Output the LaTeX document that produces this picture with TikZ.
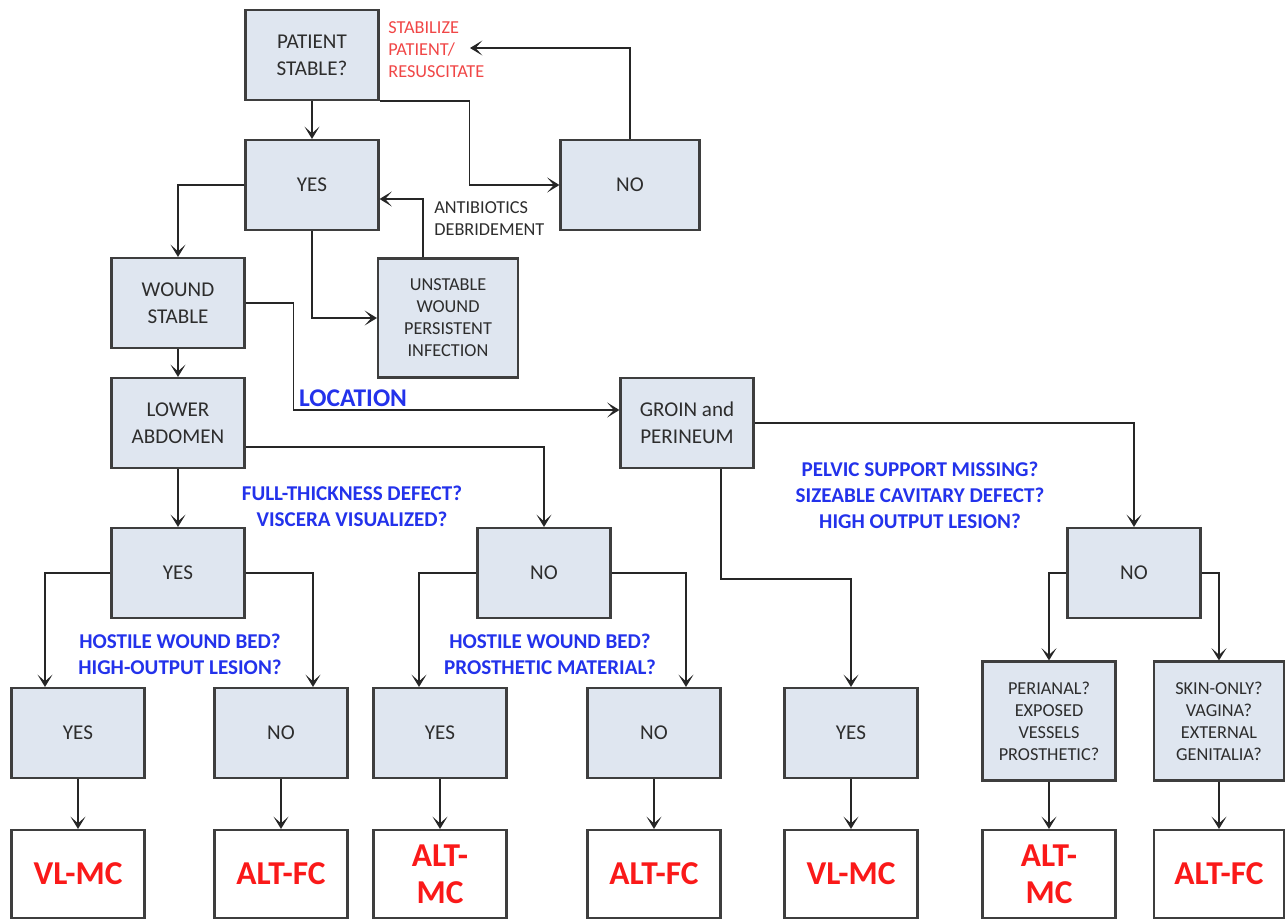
\documentclass[tikz,border=0pt]{standalone}
\usepackage{fontspec}
\setmainfont{Carlito}
\usetikzlibrary{arrows.meta}

\definecolor{boxfill}{RGB}{223,230,240}
\definecolor{boxline}{RGB}{62,62,62}
\definecolor{boxtext}{RGB}{45,45,45}
\definecolor{qblue}{RGB}{35,50,235}
\definecolor{outred}{RGB}{250,25,25}
\definecolor{notered}{RGB}{240,70,70}

\begin{document}
\begin{tikzpicture}[x=0.02cm, y=-0.02cm,
  box/.style={draw=boxline, line width=1.2pt, fill=boxfill, text=boxtext, minimum width=2.66cm, minimum height=1.8cm, align=center, inner sep=2pt, font=\fontsize{12}{15.3}\selectfont},
  tallbox/.style={box, minimum height=2.38cm, font=\fontsize{10.4}{12.5}\selectfont},
  result/.style={box, fill=white, text=outred, minimum height=1.76cm, font=\bfseries\fontsize{19}{21}\selectfont},
  question/.style={text=qblue, align=center, font=\bfseries\fontsize{12}{14.7}\selectfont},
  note/.style={align=left, inner sep=0pt, font=\fontsize{10.4}{12.5}\selectfont},
  link/.style={draw=black!85, line width=0.95pt, -{Stealth[length=7pt,width=8.5pt,inset=3.8pt]}}
]
\useasboundingbox (0,0) rectangle (1286,920);
% Top of the chart
\node[box] (patient) at (312,55) {PATIENT\\STABLE?};
\node[box] (yes1) at (312,185) {YES};
\node[box, minimum width=2.78cm] (no1) at (630,185) {NO};
\node[note, text=notered, anchor=north west] (stabilize) at (388,21) {STABILIZE\\PATIENT/\\RESUSCITATE};
\coordinate (stabtip) at (470,48);
\node[tallbox, minimum width=2.8cm] (unstable) at (448,318) {UNSTABLE\\WOUND\\PERSISTENT\\INFECTION};
\node[note, text=boxtext, anchor=north west] (abx) at (434,201) {ANTIBIOTICS\\DEBRIDEMENT};
\node[box] (wound) at (178,303) {WOUND\\STABLE};
\node[box] (lower) at (178,423) {LOWER\\ABDOMEN};
\node[box] (groin) at (687,423) {GROIN and\\PERINEUM};
\node[text=qblue, anchor=south west, inner sep=1pt, font=\bfseries\fontsize{14.5}{16}\selectfont] (location) at (297,409) {LOCATION};
% Second level
\node[box] (yes2) at (178,573) {YES};
\node[box] (no2) at (544,573) {NO};
\node[box] (no3) at (1134,573) {NO};
\node[question] (q1) at (352,506) {FULL-THICKNESS DEFECT?\\VISCERA VISUALIZED?};
\node[question] (q4) at (920,495) {PELVIC SUPPORT MISSING?\\SIZEABLE CAVITARY DEFECT?\\HIGH OUTPUT LESION?};
\node[question] (q2) at (180,654) {HOSTILE WOUND BED?\\HIGH-OUTPUT LESION?};
\node[question] (q3) at (550,654) {HOSTILE WOUND BED?\\PROSTHETIC MATERIAL?};
% Bottom row
\node[box] (yes3) at (78,733) {YES};
\node[box] (no4) at (281,733) {NO};
\node[box] (yes4) at (440,733) {YES};
\node[box] (no5) at (654,733) {NO};
\node[box] (yes5) at (851,733) {YES};
\node[tallbox] (perianal) at (1049,721) {PERIANAL?\\EXPOSED\\VESSELS\\PROSTHETIC?};
\node[tallbox, minimum width=2.6cm] (skin) at (1219,721) {SKIN-ONLY?\\VAGINA?\\EXTERNAL\\GENITALIA?};
\node[result] (r1) at (78,874) {VL-MC};
\node[result] (r2) at (281,874) {ALT-FC};
\node[result] (r3) at (440,874) {ALT-\\MC};
\node[result] (r4) at (654,874) {ALT-FC};
\node[result] (r5) at (851,874) {VL-MC};
\node[result] (r6) at (1049,874) {ALT-\\MC};
\node[result, minimum width=2.6cm] (r7) at (1219,874) {ALT-FC};
% Connectors
\draw[link] (patient) -- (yes1);
\draw[link] (patient.south east) -- ++(90,0) |- (no1.west);
\draw[link] (no1.north) |- (stabtip);
\draw[link] (yes1.west) -| (wound.north);
\draw[link] (yes1.south) |- (unstable.west);
\draw[link] ([xshift=-0.5cm]unstable.north) |- ([yshift=-0.28cm]yes1.east);
\draw[link] (wound) -- (lower);
\draw[link] (wound.east) -- ++(48,0) |- ([yshift=0.26cm]groin.west);
\draw[link] (lower) -- (yes2);
\draw[link] ([yshift=-0.48cm]lower.east) -| (no2.north);
\draw[link] (groin.east) -| (no3.north);
\draw[link] ([xshift=0.68cm]groin.south) -- ++(0,110) -| (yes5.north);
\draw[link] (yes2.west) -| ([xshift=-0.66cm]yes3.north);
\draw[link] (yes2.east) -| ([xshift=0.64cm]no4.north);
\draw[link] (no2.west) -| ([xshift=-0.42cm]yes4.north);
\draw[link] (no2.east) -| ([xshift=0.64cm]no5.north);
\draw[link] (no3.west) -| (perianal.north);
\draw[link] (no3.east) -| (skin.north);
\foreach \a/\b in {yes3/r1, no4/r2, yes4/r3, no5/r4, yes5/r5, perianal/r6, skin/r7}
  \draw[link] (\a) -- (\b);
\end{tikzpicture}
\end{document}
